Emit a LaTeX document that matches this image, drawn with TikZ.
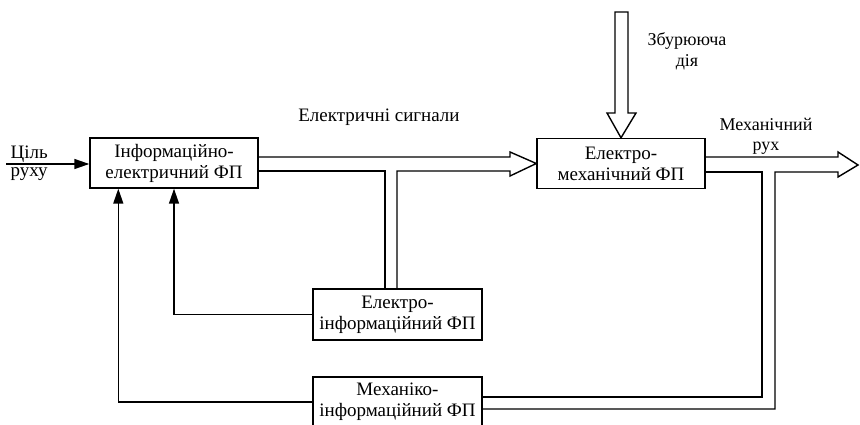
\documentclass[tikz,border=0pt]{standalone}
\usepackage{fontspec}
\setmainfont{Liberation Serif}
\usetikzlibrary{arrows.meta,calc}
\begin{document}
\begin{tikzpicture}[x=1pt,y=-1pt,line width=1.4pt,line join=miter,
  fpbox/.style={draw,minimum width=168pt,minimum height=50pt,inner sep=0pt,
    align=center,font=\fontsize{19}{21}\selectfont},
  lbl/.style={inner sep=0pt,align=center,font=\fontsize{19}{17}\selectfont},
  duo/.style={inner sep=0pt,align=center,font=\fontsize{18}{20.5}\selectfont},
  sig/.style={-{Triangle[length=15pt,width=10pt]}}]
\useasboundingbox (0,0) rectangle (860,425);

% functional converters
\node[fpbox] (info) at (174,163) {Інформаційно-\\електричний ФП};
\node[fpbox] (emech) at (621,163.5) {Електро-\\механічний ФП};
\node[fpbox,minimum width=169pt,minimum height=51pt] (einf) at (397.5,314.5) {Електро-\\інформаційний ФП};
\node[fpbox,minimum width=169pt] (minf) at (397.5,402) {Механіко-\\інформаційний ФП};

% labels
\node[lbl,anchor=base west] (goal1) at (10,159) {Ціль};
\node[lbl,anchor=base west] (goal2) at (10,177) {руху};
\node[lbl,anchor=base] (esig) at (379,122) {Електричні сигнали};
\node[duo,anchor=north] (dist) at (687,32) {Збурююча\\дія};
\node[duo,anchor=north] (mot) at (766,117) {Механічний\\рух};

% input
\coordinate (goalin) at (6,164);
\draw[sig] (goalin) -- (goalin -| info.west);

% electrical signals (wide arrow with branch down to einf)
\draw (info.east |- 0,157) -- (510,157) -- (510,152) -- (emech.west)
      -- (510,176) -- (510,171) -- (397,171) -- (einf.north -| 397,0);
\draw (info.east |- 0,171) -- (385,171) -- (einf.north -| 385,0);

% disturbance
\draw (615,12) -- (615,113) -- (607,113) -- (emech.north) -- (636,113)
      -- (628,113) -- (628,12) -- cycle;

% mechanical motion (wide arrow with branch down to minf)
\coordinate (motion) at (858,165);
\draw (emech.east |- 0,157) -- (838,157) -- (838,152) -- (motion)
      -- (838,177) -- (838,172) -- (775,172) -- (775,409) -- (minf.east |- 0,409);
\draw (emech.east |- 0,172) -- (762,172) -- (762,397) -- (minf.east |- 0,397);

% feedback
\draw[sig] (einf.west) -| (info.south);
\draw[sig] (minf.west) -| ([xshift=29pt]info.south west);
\end{tikzpicture}
\end{document}
